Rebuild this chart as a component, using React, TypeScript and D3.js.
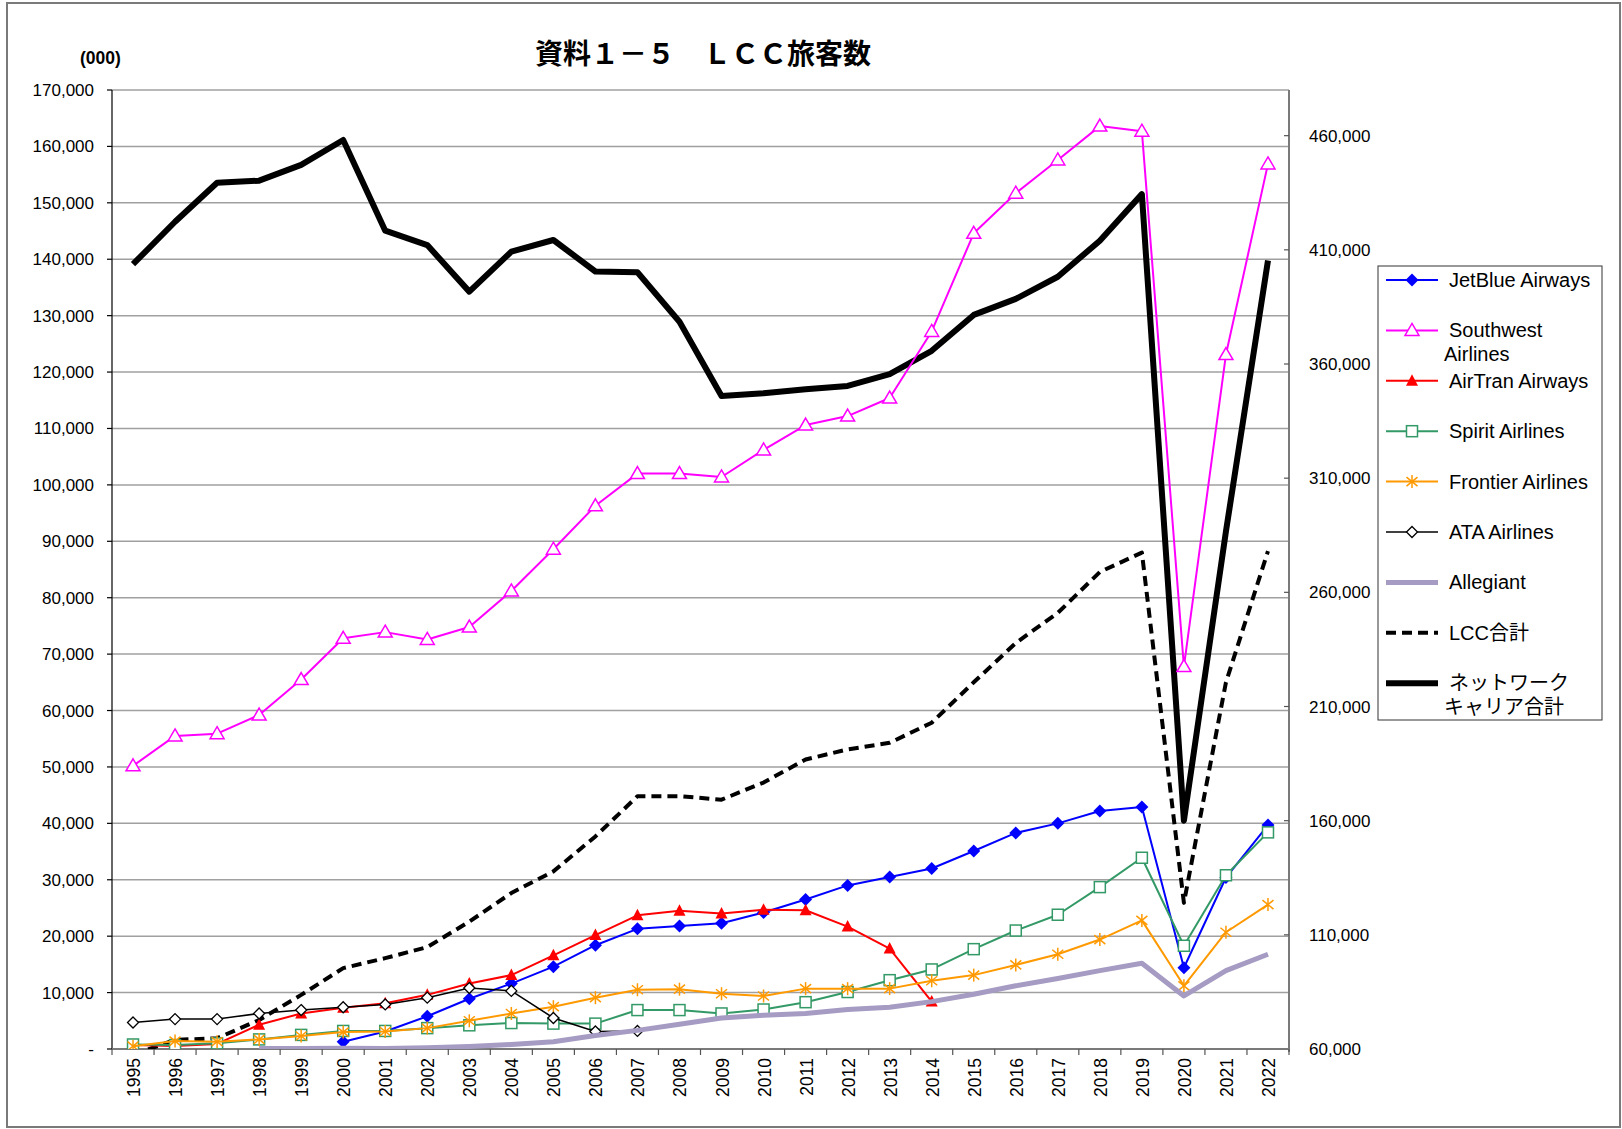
import React from 'react'
import * as d3 from 'd3'

// 年（カテゴリ）
const years = ['1995', '1996', '1997', '1998', '1999', '2000', '2001', '2002', '2003', '2004',
  '2005', '2006', '2007', '2008', '2009', '2010', '2011', '2012', '2013', '2014',
  '2015', '2016', '2017', '2018', '2019', '2020', '2021', '2022']

// 左軸 (000)
const jetBlue = [null, null, null, null, null, 1300, 3100, 5800, 8900, 11600, 14600, 18400, 21300, 21800,
  22300, 24200, 26500, 29000, 30500, 32000, 35100, 38300, 40000, 42200, 42900, 14400, 30400, 39700]
const southwest = [50200, 55500, 55900, 59200, 65500, 72800, 73900, 72600, 74800, 81200, 88600, 96300, 102000, 102000,
  101400, 106200, 110600, 112200, 115400, 127200, 144600, 151700, 157600, 163600, 162700, 67800, 123100, 156900]
const airTran = [700, 550, 900, 4300, 6300, 7300, 8100, 9600, 11600, 13100, 16600, 20200, 23700, 24500,
  24000, 24700, 24600, 21700, 17800, 8400, null, null, null, null, null, null, null, null]
const spirit = [800, 700, 1000, 1700, 2500, 3200, 3200, 3700, 4200, 4600, 4500, 4500, 6900, 6900,
  6300, 7000, 8300, 10100, 12200, 14100, 17700, 21000, 23800, 28700, 33900, 18300, 30800, 38400]
const frontier = [500, 1400, 1300, 1700, 2300, 3000, 3100, 3700, 5000, 6300, 7500, 9100, 10500, 10600,
  9800, 9400, 10700, 10700, 10700, 12100, 13100, 14900, 16800, 19400, 22800, 11200, 20700, 25600]
const ata = [4700, 5300, 5300, 6300, 6900, 7400, 7900, 9100, 10800, 10300, 5500, 3100, 3200, null,
  null, null, null, null, null, null, null, null, null, null, null, null, null, null]
const allegiant = [null, null, null, 100, 100, 150, 100, 200, 450, 800, 1300, 2400, 3300, 4400,
  5500, 6000, 6300, 7000, 7400, 8400, 9700, 11200, 12500, 13900, 15200, 9400, 13900, 16800]

// 右軸
const lccTotal = [57500, 64000, 64700, 72700, 83700, 95400, 99800, 104600, 115800, 128300, 137800, 153100, 170700, 170700,
  169200, 176700, 186800, 191200, 194100, 202900, 220600, 237800, 251000, 268900, 277400, 124000, 220600, 278000]
const networkTotal = [403700, 422300, 439400, 440300, 447200, 458100, 418400, 412100, 391700, 409200, 414300, 400500, 400200, 378500,
  346000, 347200, 348900, 350400, 355600, 365800, 381500, 388500, 398200, 414000, 434400, 160000, 286700, 405300]

const leftTicks = d3.range(0, 170001, 10000)
const rightTicks = d3.range(60000, 460001, 50000)

const FONT = "'Liberation Sans', Arial, 'Noto Sans CJK JP', sans-serif"

const primary = [
  { name: ['JetBlue Airways'], values: jetBlue, color: '#0000ff', width: 2, marker: 'diamond' },
  { name: ['Southwest', 'Airlines'], values: southwest, color: '#ff00ff', width: 2, marker: 'triangleOpen' },
  { name: ['AirTran Airways'], values: airTran, color: '#ff0000', width: 2, marker: 'triangle' },
  { name: ['Spirit Airlines'], values: spirit, color: '#339966', width: 2, marker: 'square' },
  { name: ['Frontier Airlines'], values: frontier, color: '#ff9900', width: 2, marker: 'star' },
  { name: ['ATA Airlines'], values: ata, color: '#000000', width: 1.5, marker: 'diamondOpen' },
  { name: ['Allegiant'], values: allegiant, color: '#a59bc3', width: 5, marker: 'none' },
]
const secondary = [
  { name: ['LCC合計'], values: lccTotal, color: '#000000', width: 4, dash: '10 6' },
  { name: ['ネットワーク', 'キャリア合計'], values: networkTotal, color: '#000000', width: 6, dash: null },
]

function Marker({ type, x, y, color }) {
  if (type === 'diamond')
    return <path d={`M${x},${y - 6.5}L${x + 6.5},${y}L${x},${y + 6.5}L${x - 6.5},${y}Z`} fill={color} />
  if (type === 'diamondOpen')
    return <path d={`M${x},${y - 5.5}L${x + 5.5},${y}L${x},${y + 5.5}L${x - 5.5},${y}Z`} fill="#fff" stroke={color} strokeWidth={1.3} />
  if (type === 'triangleOpen')
    return <path d={`M${x},${y - 7}L${x + 7},${y + 5}L${x - 7},${y + 5}Z`} fill="#fff" stroke={color} strokeWidth={1.5} />
  if (type === 'triangle')
    return <path d={`M${x},${y - 6.5}L${x + 6},${y + 5}L${x - 6},${y + 5}Z`} fill={color} />
  if (type === 'square')
    return <rect x={x - 5.5} y={y - 5.5} width={11} height={11} fill="#fff" stroke={color} strokeWidth={1.5} />
  if (type === 'star')
    return (
      <g stroke={color} strokeWidth={1.5}>
        <line x1={x} y1={y - 6.5} x2={x} y2={y + 6.5} />
        <line x1={x - 5.5} y1={y - 4.5} x2={x + 5.5} y2={y + 4.5} />
        <line x1={x - 5.5} y1={y + 4.5} x2={x + 5.5} y2={y - 4.5} />
      </g>
    )
  return null
}

export default function App() {
  const W = 1622, H = 1129
  const left = 112, right = 1289, top = 90, bottom = 1049

  const x = d3.scaleBand().domain(years).range([left, right])
  const cx = (yr) => x(yr) + x.bandwidth() / 2
  const yL = d3.scaleLinear().domain([0, 170000]).range([bottom, top])
  const yR = d3.scaleLinear().domain([60000, 480000]).range([bottom, top])
  const fmt = d3.format(',')

  const lineFor = (scale) => d3.line()
    .defined(d => d != null)
    .x((d, i) => cx(years[i]))
    .y(d => scale(d))

  const legendX = 1378, legendY = 266
  const rowY = (i) => 280 + i * 50.4
  const legendItems = [...primary, ...secondary]

  return (
    <div style={{ position: 'absolute', left: 0, top: 0 }}>
      <svg width={W} height={H} style={{ display: 'block', fontFamily: FONT }}>
        <rect x={0} y={0} width={W} height={H} fill="#fff" />
        <rect x={7} y={3} width={1613} height={1124} fill="none" stroke="#7a7a7a" strokeWidth={2} />

        <defs>
          <clipPath id="plot">
            <rect x={left} y={top - 10} width={right - left} height={bottom - top + 10} />
          </clipPath>
        </defs>

        {/* グリッド */}
        {leftTicks.map(t => (
          <line key={t} x1={left} x2={right} y1={yL(t)} y2={yL(t)} stroke="#a0a0a0" strokeWidth={1.5} />
        ))}

        {/* 左軸 */}
        <line x1={left} x2={left} y1={top} y2={bottom} stroke="#000" strokeWidth={1.2} />
        {leftTicks.map(t => (
          <g key={t}>
            <line x1={left - 5} x2={left} y1={yL(t)} y2={yL(t)} stroke="#000" strokeWidth={1.2} />
            <text x={94} y={yL(t) + 6} textAnchor="end" fontSize={17}>{t === 0 ? '-' : fmt(t)}</text>
          </g>
        ))}

        {/* 右軸 */}
        <line x1={right} x2={right} y1={top} y2={bottom + 3} stroke="#7a7a7a" strokeWidth={2} />
        {rightTicks.map(t => (
          <g key={t}>
            <line x1={right - 5} x2={right} y1={yR(t)} y2={yR(t)} stroke="#555" strokeWidth={1.2} />
            <text x={1309} y={yR(t) + 6} fontSize={17}>{fmt(t)}</text>
          </g>
        ))}

        {/* X軸 */}
        <line x1={left} x2={right} y1={bottom} y2={bottom} stroke="#7a7a7a" strokeWidth={2} />
        {years.map(yr => (
          <line key={yr} x1={x(yr)} x2={x(yr)} y1={bottom} y2={bottom + 6} stroke="#555" strokeWidth={1.2} />
        ))}
        <line x1={right} x2={right} y1={bottom} y2={bottom + 6} stroke="#555" strokeWidth={1.2} />
        {years.map(yr => (
          <text key={yr} transform={`translate(${cx(yr) + 7},1058) rotate(-90)`} textAnchor="end" fontSize={17.5}>{yr}</text>
        ))}

        {/* 系列 */}
        <g clipPath="url(#plot)">
          {secondary.map((s, i) => (
            <path key={i} d={lineFor(yR)(s.values)} fill="none" stroke={s.color} strokeWidth={s.width}
              strokeDasharray={s.dash || undefined} strokeLinejoin="round" />
          ))}
          {primary.map((s, i) => (
            <g key={i}>
              <path d={lineFor(yL)(s.values)} fill="none" stroke={s.color} strokeWidth={s.width} strokeLinejoin="round" />
              {s.values.map((v, j) => v == null ? null :
                <Marker key={j} type={s.marker} x={cx(years[j])} y={yL(v)} color={s.color} />)}
            </g>
          ))}
        </g>

        {/* タイトル */}
        <text x={703} y={64} textAnchor="middle" fontSize={28} fontWeight="bold"
          fontFamily="'Noto Sans CJK JP', sans-serif">資料１－５　ＬＣＣ旅客数</text>
        <text x={80} y={64} fontSize={17.5} fontWeight="bold">(000)</text>

        {/* 凡例 */}
        <rect x={legendX} y={legendY} width={224} height={454} fill="#fff" stroke="#333" strokeWidth={1} />
        {legendItems.map((s, i) => {
          const ly = rowY(i)
          return (
            <g key={i}>
              <line x1={1386} x2={1438} y1={ly} y2={ly} stroke={s.color} strokeWidth={s.width}
                strokeDasharray={s.dash || undefined} />
              {s.marker && <Marker type={s.marker} x={1412} y={ly} color={s.color} />}
              {s.name.map((n, k) => (
                <text key={k} x={k === 0 ? 1449 : 1444} y={ly + 7 + k * 23.5} fontSize={20}>{n}</text>
              ))}
            </g>
          )
        })}
      </svg>
    </div>
  )
}
